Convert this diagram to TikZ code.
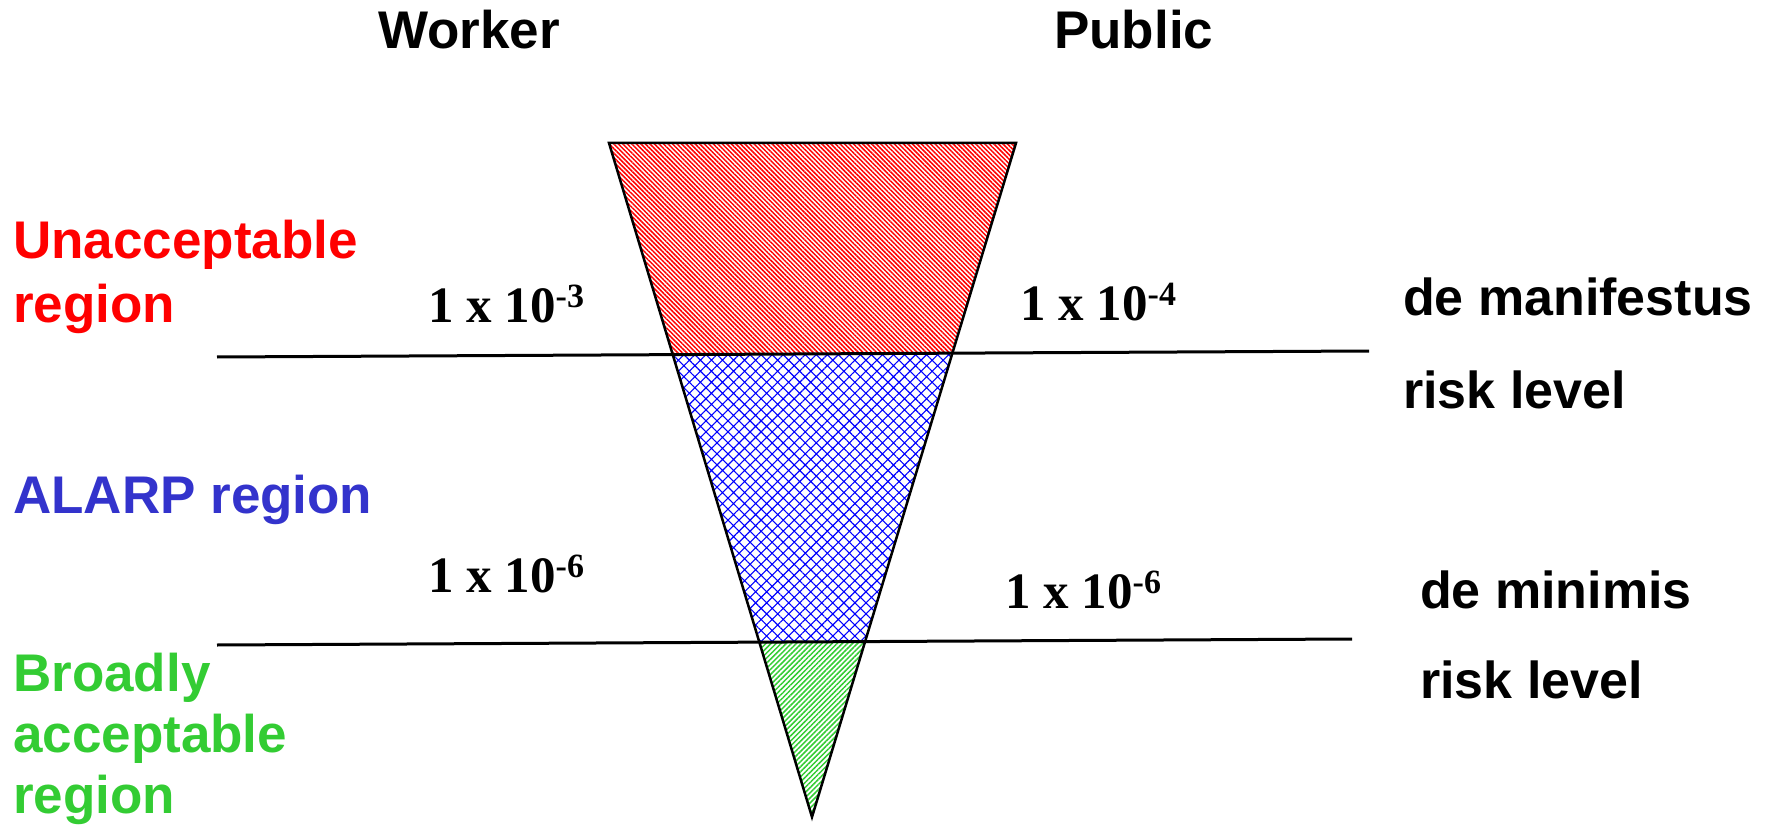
\documentclass[tikz,border=0pt]{standalone}
\usepackage{fontspec}
\setmainfont{Liberation Sans}
\newfontfamily\timesfont{Liberation Serif}
\usetikzlibrary{patterns.meta}

\definecolor{alarpblue}{RGB}{51,51,204}
\definecolor{okgreen}{RGB}{51,204,51}

\newcommand{\riskval}[2]{{\timesfont\bfseries\fontsize{51}{51}\selectfont
  #1 x 10\raisebox{15pt}{\fontsize{34}{34}\selectfont #2}}}

\begin{document}
\begin{tikzpicture}[x=1pt, y=-1pt,
    every node/.style={inner sep=0pt, anchor=base west, align=left,
      font=\bfseries\fontsize{53}{64}\selectfont},
    redhatch/.style={pattern={Lines[angle=-45, distance=3.2pt, line width=1.5pt]}, pattern color=red},
    bluehatch/.style={pattern={Hatch[angle=45, distance=7.8pt, line width=1.1pt]}, pattern color=blue},
    greenhatch/.style={pattern={Lines[angle=45, distance=3.6pt, line width=1.5pt]}, pattern color=okgreen},
    levelline/.style={line width=3pt}]
    \useasboundingbox (0,0) rectangle (1781,829);

    \coordinate (topleft) at (609,143);
    \coordinate (topright) at (1016,143);
    \coordinate (apex) at (812,817);
    \coordinate (upperstart) at (217,357);
    \coordinate (upperend) at (1369,351);
    \coordinate (lowerstart) at (217,645);
    \coordinate (lowerend) at (1352,639);

    % hatched regions inside the funnel
    \begin{scope}
        \clip (topleft) -- (topright) -- (apex) -- cycle;
        \fill[redhatch] (upperstart) -- (upperend) -- (1369,100) -- (217,100) -- cycle;
        \fill[bluehatch] (upperstart) -- (upperend) -- (lowerend) -- (lowerstart) -- cycle;
        \fill[greenhatch] (lowerstart) -- (lowerend) -- (1352,829) -- (217,829) -- cycle;
    \end{scope}
    \draw[line width=2.5pt, line join=miter] (topleft) -- (topright) -- (apex) -- cycle;
    \draw[levelline] (upperstart) -- (upperend);
    \draw[levelline] (lowerstart) -- (lowerend);

    \node (worker) at (378,49) {Worker};
    \node (public) at (1054,49) {Public};

    % base of a multi-line node is its last line
    \node[red] (unacceptable) at (13,322) {Unacceptable\\region};
    \node[alarpblue] (alarp) at (13,513) {ALARP region};
    \node[okgreen, font=\bfseries\fontsize{53}{61}\selectfont] (broadly) at (13,813) {Broadly\\acceptable\\region};

    \node (workerhigh) at (428,322) {\riskval{1}{-3}};
    \node (publichigh) at (1020,320) {\riskval{1}{-4}};
    \node (workerlow) at (428,592) {\riskval{1}{-6}};
    \node (publiclow) at (1005,608) {\riskval{1}{-6}};

    \node[font=\bfseries\fontsize{52}{93}\selectfont] (manifestus) at (1403,408) {de manifestus\\risk level};
    \node[font=\bfseries\fontsize{52}{90}\selectfont] (minimis) at (1420,698) {de minimis\\risk level};
\end{tikzpicture}
\end{document}
